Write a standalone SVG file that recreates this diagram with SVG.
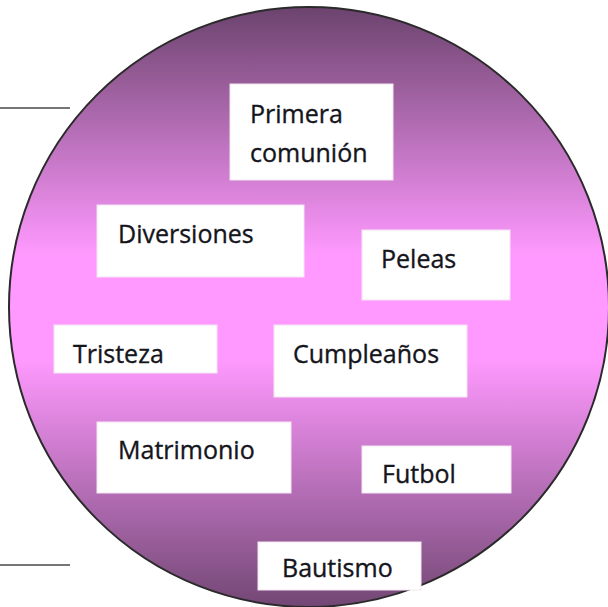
<svg xmlns="http://www.w3.org/2000/svg" width="608" height="607" viewBox="0 0 608 607">
<defs>
<linearGradient id="g" gradientUnits="userSpaceOnUse" x1="0" y1="7" x2="0" y2="607">
<stop offset="0" stop-color="#6b436d"/>
<stop offset="0.413" stop-color="#ff99ff"/>
<stop offset="0.588" stop-color="#ff99ff"/>
<stop offset="1" stop-color="#724774"/>
</linearGradient>
<style>
.box{fill:#ffffff;stroke:#f2e6f2;stroke-width:1}
.t{font-family:"Open Sans","Noto Sans",sans-serif;font-size:25px;fill:#15151c;stroke:#15151c;stroke-width:0.35}
.ln{stroke:#767676;stroke-width:2;fill:none}
</style>
</defs>
<g id="connectors">
<line class="ln" x1="0" y1="108" x2="70" y2="108"/>
<line class="ln" x1="0" y1="565" x2="70" y2="565"/>
</g>
<g id="circle">
<circle cx="309" cy="307" r="300" fill="url(#g)" stroke="#2a2a2a" stroke-width="2"/>
</g>
<g id="primera">
<rect class="box" x="230" y="84" width="163" height="96"/>
<text class="t" x="250" y="123">Primera</text>
<text class="t" x="250" y="162">comunión</text>
</g>
<g id="diversiones">
<rect class="box" x="97" y="205" width="207" height="72"/>
<text class="t" x="118" y="243">Diversiones</text>
</g>
<g id="peleas">
<rect class="box" x="362" y="230" width="148" height="70"/>
<text class="t" x="381" y="268">Peleas</text>
</g>
<g id="tristeza">
<rect class="box" x="54" y="325" width="163" height="48"/>
<text class="t" x="73" y="363">Tristeza</text>
</g>
<g id="cumpleanos">
<rect class="box" x="274" y="325" width="193" height="72"/>
<text class="t" x="293" y="363">Cumpleaños</text>
</g>
<g id="matrimonio">
<rect class="box" x="97" y="422" width="194" height="71"/>
<text class="t" x="118" y="459">Matrimonio</text>
</g>
<g id="futbol">
<rect class="box" x="362" y="446" width="149" height="47"/>
<text class="t" x="382" y="483">Futbol</text>
</g>
<g id="bautismo">
<rect class="box" x="258" y="542" width="163" height="48"/>
<text class="t" x="282" y="577">Bautismo</text>
</g>
</svg>
